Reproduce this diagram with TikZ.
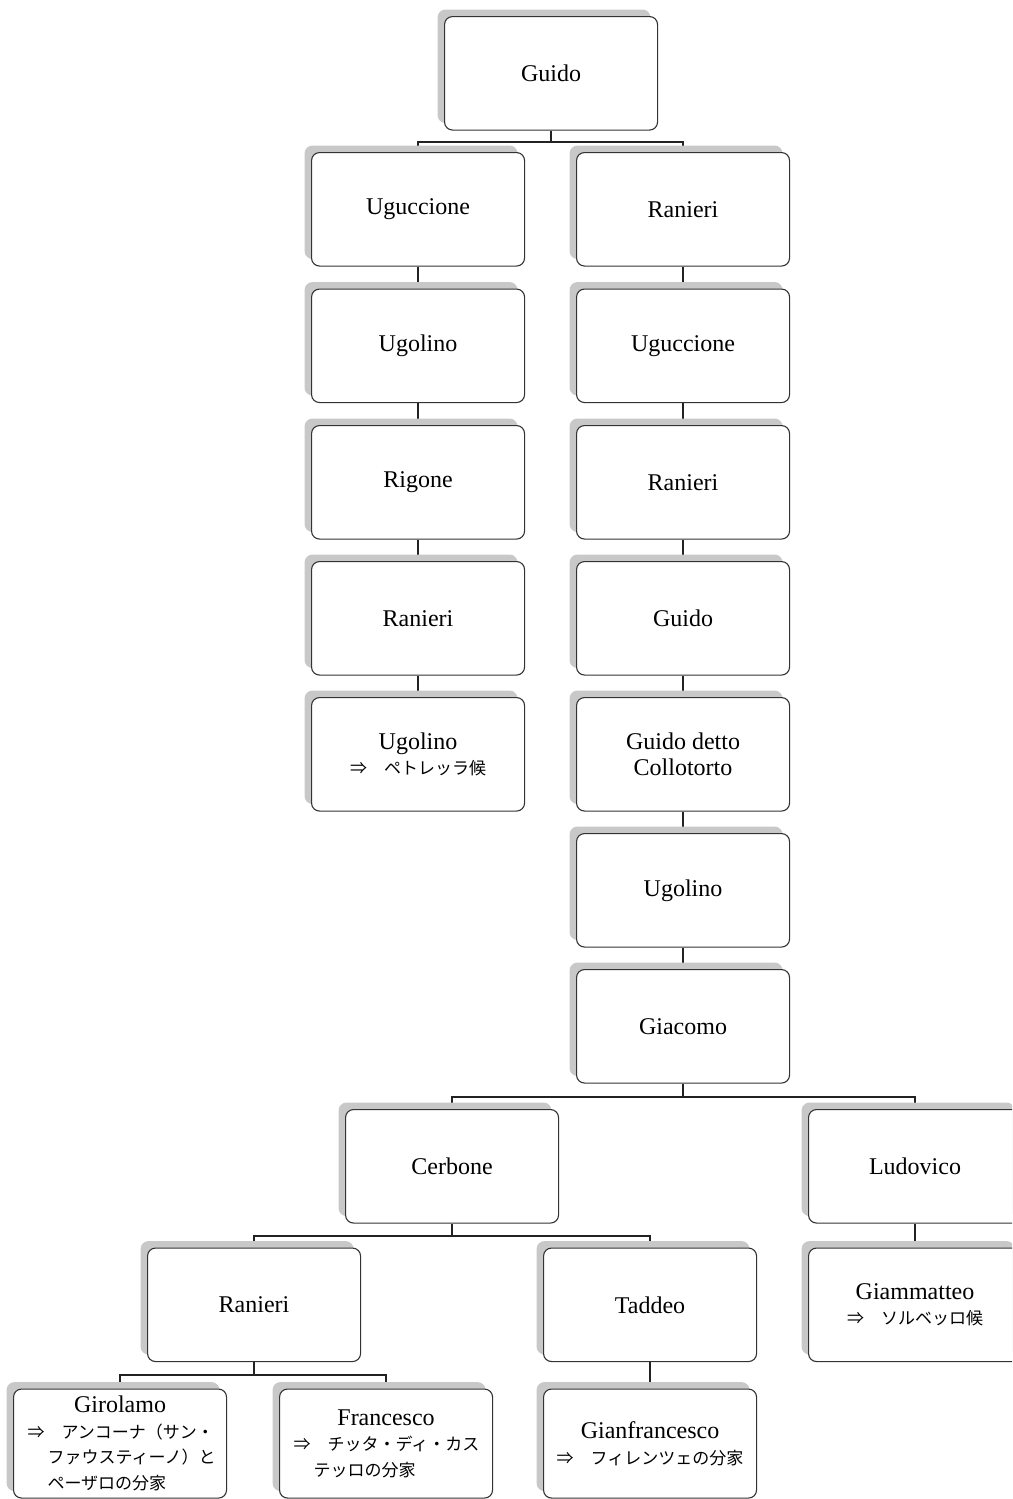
\documentclass[tikz,border=0pt]{standalone}
\usepackage{fontspec}
\setmainfont{Liberation Serif}
\newfontfamily\jpfont{Noto Sans CJK JP}
\usetikzlibrary{shadows}
\definecolor{boxline}{HTML}{333333}
\definecolor{connline}{HTML}{222222}
\definecolor{shadowgray}{HTML}{C8C8C8}
\pgfdeclarelayer{background}
\pgfsetlayers{background,main}
\newcommand\jp{\jpfont\fontsize{17}{25}\selectfont}
\newcommand\jl[1]{\makebox[185pt][l]{\jp #1}}
\newcommand\jind{\hspace*{20pt}}
\begin{document}
\begin{tikzpicture}[x=1pt,y=-1pt,
  person/.style={draw=boxline, line width=1.1pt, rounded corners=8pt, fill=white,
    minimum width=213pt, minimum height=113.5pt, inner sep=0pt, align=center,
    anchor=north west, font=\fontsize{24}{25.5}\selectfont,
    general shadow={fill=shadowgray, shadow xshift=-7pt, shadow yshift=7pt}},
  low/.style={minimum height=109pt},
  conn/.style={draw=connline, line width=2pt}]
\useasboundingbox (0,0) rectangle (1012,1499);
\clip (0,0) rectangle (1012,1499);
% nodes
\node[person] (guido) at (444,16) {Guido};
\node[person] (ugu1) at (311,152) {Uguccione};
\node[person] (ugo1) at (311,288.5) {Ugolino};
\node[person] (rig) at (311,425) {Rigone};
\node[person] (ran2) at (311,561) {Ranieri};
\node[person] (ugo2) at (311,697) {Ugolino\\{\jp ⇒　ペトレッラ候}};
\node[person] (ran1) at (576,152) {Ranieri};
\node[person] (ugu2) at (576,288.5) {Uguccione};
\node[person] (ran3) at (576,425) {Ranieri};
\node[person] (gui2) at (576,561) {Guido};
\node[person] (gdc) at (576,697) {Guido detto\\Collotorto};
\node[person] (ugo3) at (576,833) {Ugolino};
\node[person] (gia) at (576,969) {Giacomo};
\node[person] (cer) at (345,1109) {Cerbone};
\node[person] (lud) at (808,1109) {Ludovico};
\node[person] (ran4) at (147,1247.5) {Ranieri};
\node[person] (tad) at (543,1247.5) {Taddeo};
\node[person] (gmt) at (808,1247.5) {Giammatteo\\{\jp ⇒　ソルベッロ候}};
\node[person,low] (gir) at (13,1388.5) {Girolamo\\
  \jl{⇒　アンコーナ（サン・}\\
  \jl{\jind ファウスティーノ）と}\\
  \jl{\jind ペーザロの分家}};
\node[person,low] (fra) at (279,1388.5) {Francesco\\
  \jl{⇒　チッタ・ディ・カス}\\
  \jl{\jind テッロの分家}};
\node[person,low] (gfr) at (543,1388.5) {Gianfrancesco\\{\jp ⇒　フィレンツェの分家}};
% connectors, behind boxes and shadows
\begin{pgfonlayer}{background}
\begin{scope}[conn]
\draw (guido.south) -- ++(0,11) -| (ugu1.north);
\draw (guido.south) -- ++(0,11) -| (ran1.north);
\draw (ugu1.south) -- (ugo1.north);
\draw (ugo1.south) -- (rig.north);
\draw (rig.south) -- (ran2.north);
\draw (ran2.south) -- (ugo2.north);
\draw (ran1.south) -- (ugu2.north);
\draw (ugu2.south) -- (ran3.north);
\draw (ran3.south) -- (gui2.north);
\draw (gui2.south) -- (gdc.north);
\draw (gdc.south) -- (ugo3.north);
\draw (ugo3.south) -- (gia.north);
\draw (gia.south) -- ++(0,13) -| (cer.north);
\draw (gia.south) -- ++(0,13) -| (lud.north);
\draw (cer.south) -- ++(0,12.5) -| (ran4.north);
\draw (cer.south) -- ++(0,12.5) -| (tad.north);
\draw (lud.south) -- (gmt.north);
\draw (ran4.south) -- ++(0,13) -| (gir.north);
\draw (ran4.south) -- ++(0,13) -| (fra.north);
\draw (tad.south) -- (gfr.north);
\end{scope}
\end{pgfonlayer}
\end{tikzpicture}
\end{document}
